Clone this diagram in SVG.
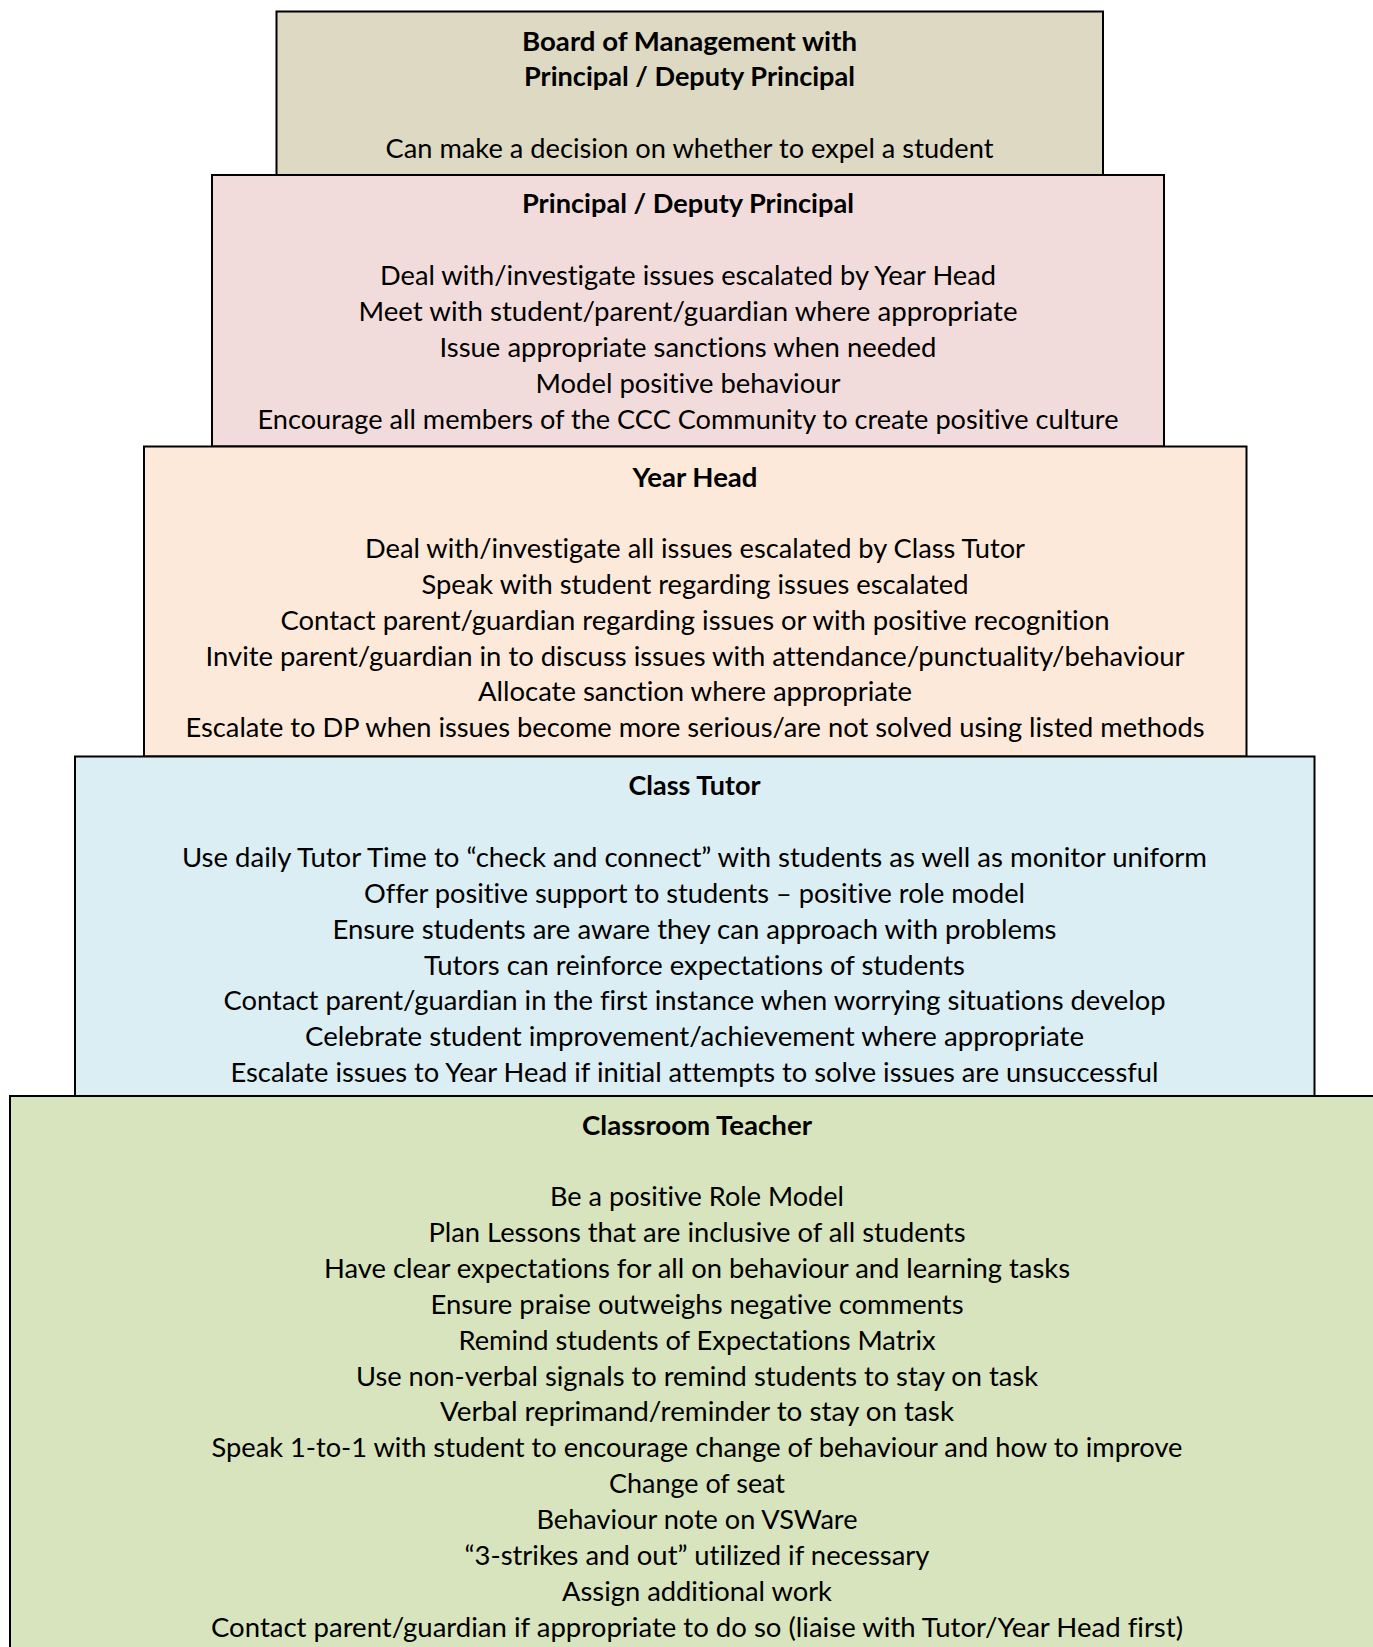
<svg xmlns="http://www.w3.org/2000/svg" width="1373" height="1647" viewBox="0 0 1373 1647">
<style>
.box{stroke:#000;stroke-width:2}
text{font-family:Lato,"Open Sans","Liberation Sans",sans-serif;font-size:26.5px;fill:#000;text-anchor:middle;font-variant-ligatures:none;font-feature-settings:"liga" 0,"clig" 0,"dlig" 0}
.b{font-weight:bold}
</style>
<rect width="1373" height="1647" fill="#fff"/>
<g id="connectors"/>
<g id="board">
<rect class="box" x="276.5" y="11.5" width="826.5" height="163.5" fill="#DDD9C3"/>
<text class="b" x="689.5" y="50.5" textLength="335" lengthAdjust="spacingAndGlyphs">Board of Management with</text>
<text class="b" x="689.5" y="86.3" textLength="331" lengthAdjust="spacingAndGlyphs">Principal / Deputy Principal</text>
<text x="689.5" y="158" textLength="608" lengthAdjust="spacingAndGlyphs">Can make a decision on whether to expel a student</text>
</g>
<g id="principal">
<rect class="box" x="212" y="175" width="952" height="271.5" fill="#F2DCDB"/>
<text class="b" x="688" y="213.3" textLength="332" lengthAdjust="spacingAndGlyphs">Principal / Deputy Principal</text>
<text x="688" y="285" textLength="616" lengthAdjust="spacingAndGlyphs">Deal with/investigate issues escalated by Year Head</text>
<text x="688" y="320.9" textLength="659" lengthAdjust="spacingAndGlyphs">Meet with student/parent/guardian where appropriate</text>
<text x="688" y="356.8" textLength="497" lengthAdjust="spacingAndGlyphs">Issue appropriate sanctions when needed</text>
<text x="688" y="392.7" textLength="305" lengthAdjust="spacingAndGlyphs">Model positive behaviour</text>
<text x="688" y="428.6" textLength="861" lengthAdjust="spacingAndGlyphs">Encourage all members of the CCC Community to create positive culture</text>
</g>
<g id="year-head">
<rect class="box" x="144" y="446.5" width="1102.5" height="310" fill="#FDE9D9"/>
<text class="b" x="695" y="486.5" textLength="125" lengthAdjust="spacingAndGlyphs">Year Head</text>
<text x="695" y="558.1" textLength="660" lengthAdjust="spacingAndGlyphs">Deal with/investigate all issues escalated by Class Tutor</text>
<text x="695" y="593.9" textLength="547" lengthAdjust="spacingAndGlyphs">Speak with student regarding issues escalated</text>
<text x="695" y="629.7" textLength="829" lengthAdjust="spacingAndGlyphs">Contact parent/guardian regarding issues or with positive recognition</text>
<text x="695" y="665.5" textLength="979" lengthAdjust="spacingAndGlyphs">Invite parent/guardian in to discuss issues with attendance/punctuality/behaviour</text>
<text x="695" y="701.3" textLength="434" lengthAdjust="spacingAndGlyphs">Allocate sanction where appropriate</text>
<text x="695" y="737.1" textLength="1019" lengthAdjust="spacingAndGlyphs">Escalate to DP when issues become more serious/are not solved using listed methods</text>
</g>
<g id="class-tutor">
<rect class="box" x="75" y="756.5" width="1239.5" height="339.5" fill="#DBEEF3"/>
<text class="b" x="694.5" y="795.4" textLength="132" lengthAdjust="spacingAndGlyphs">Class Tutor</text>
<text x="694.5" y="867" textLength="1025" lengthAdjust="spacingAndGlyphs">Use daily Tutor Time to “check and connect” with students as well as monitor uniform</text>
<text x="694.5" y="902.9" textLength="661" lengthAdjust="spacingAndGlyphs">Offer positive support to students – positive role model</text>
<text x="694.5" y="938.7" textLength="724" lengthAdjust="spacingAndGlyphs">Ensure students are aware they can approach with problems</text>
<text x="694.5" y="974.6" textLength="541" lengthAdjust="spacingAndGlyphs">Tutors can reinforce expectations of students</text>
<text x="694.5" y="1010.4" textLength="942" lengthAdjust="spacingAndGlyphs">Contact parent/guardian in the first instance when worrying situations develop</text>
<text x="694.5" y="1046.3" textLength="779" lengthAdjust="spacingAndGlyphs">Celebrate student improvement/achievement where appropriate</text>
<text x="694.5" y="1082.1" textLength="928" lengthAdjust="spacingAndGlyphs">Escalate issues to Year Head if initial attempts to solve issues are unsuccessful</text>
</g>
<g id="classroom-teacher">
<rect class="box" x="10" y="1096" width="1380" height="600" fill="#D7E4BD"/>
<text class="b" x="697" y="1134.7" textLength="230" lengthAdjust="spacingAndGlyphs">Classroom Teacher</text>
<text x="697" y="1206.2" textLength="294" lengthAdjust="spacingAndGlyphs">Be a positive Role Model</text>
<text x="697" y="1242.1" textLength="537" lengthAdjust="spacingAndGlyphs">Plan Lessons that are inclusive of all students</text>
<text x="697" y="1277.9" textLength="746" lengthAdjust="spacingAndGlyphs">Have clear expectations for all on behaviour and learning tasks</text>
<text x="697" y="1313.8" textLength="533" lengthAdjust="spacingAndGlyphs">Ensure praise outweighs negative comments</text>
<text x="697" y="1349.7" textLength="477" lengthAdjust="spacingAndGlyphs">Remind students of Expectations Matrix</text>
<text x="697" y="1385.6" textLength="682" lengthAdjust="spacingAndGlyphs">Use non-verbal signals to remind students to stay on task</text>
<text x="697" y="1421.4" textLength="514" lengthAdjust="spacingAndGlyphs">Verbal reprimand/reminder to stay on task</text>
<text x="697" y="1457.3" textLength="971" lengthAdjust="spacingAndGlyphs">Speak 1-to-1 with student to encourage change of behaviour and how to improve</text>
<text x="697" y="1493.2" textLength="176" lengthAdjust="spacingAndGlyphs">Change of seat</text>
<text x="697" y="1529" textLength="321" lengthAdjust="spacingAndGlyphs">Behaviour note on VSWare</text>
<text x="697" y="1564.9" textLength="465" lengthAdjust="spacingAndGlyphs">“3-strikes and out” utilized if necessary</text>
<text x="697" y="1600.8" textLength="270" lengthAdjust="spacingAndGlyphs">Assign additional work</text>
<text x="697" y="1636.6" textLength="972" lengthAdjust="spacingAndGlyphs">Contact parent/guardian if appropriate to do so (liaise with Tutor/Year Head first)</text>
</g>
</svg>
